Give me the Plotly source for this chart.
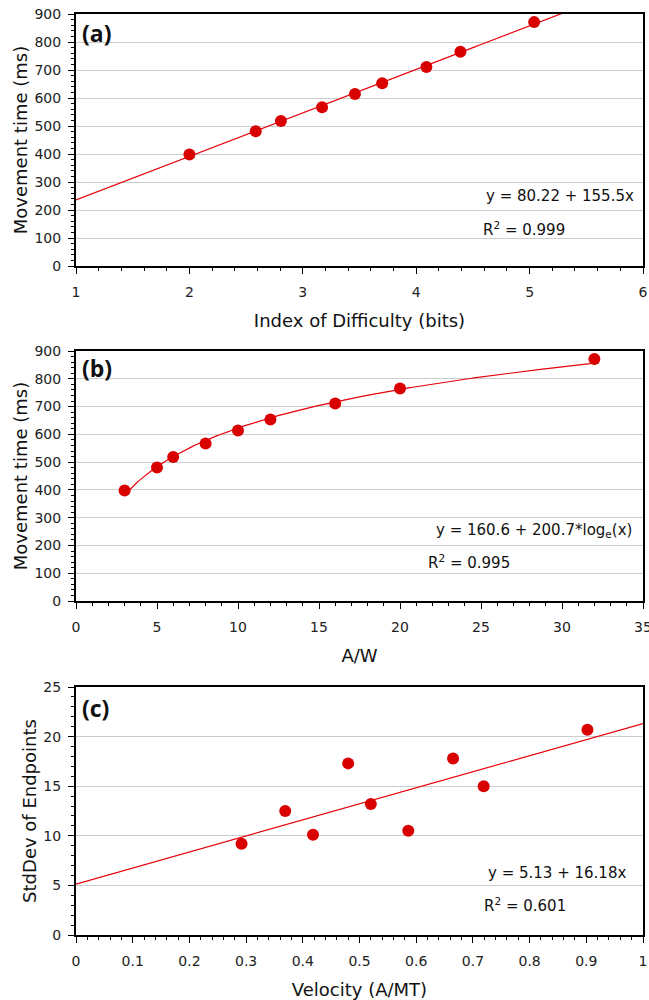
import numpy as np
import plotly.graph_objects as go

# ---------------- data ----------------
aw_ratio = [3, 5, 6, 8, 10, 12, 16, 20, 32]
index_of_difficulty = [2.00, 2.585, 2.807, 3.17, 3.46, 3.70, 4.09, 4.39, 5.04]
movement_time = [398, 481, 518, 567, 614, 653, 711, 765, 871]

velocity = [0.292, 0.369, 0.418, 0.480, 0.520, 0.586, 0.665, 0.719, 0.902]
stddev_endpoints = [9.2, 12.5, 10.1, 17.3, 13.2, 10.5, 17.8, 15.0, 20.7]

fit_a = (80.22, 155.5)     # y = a + b*x
fit_b = (160.6, 200.7)     # y = a + b*ln(x)
fit_c = (5.13, 16.18)      # y = a + b*x

eq_a = "y = 80.22 + 155.5x"
r2_a = "R<sup>2</sup> = 0.999"
eq_b = "y = 160.6 + 200.7*log<sub>e</sub>(x)"
r2_b = "R<sup>2</sup> = 0.995"
eq_c = "y = 5.13 + 16.18x"
r2_c = "R<sup>2</sup> = 0.601"

# ---------------- styling ----------------
W, H = 649, 1000
RED = "#d90000"
LINE_RED = "#e8000b"
FONT = "DejaVu Sans"
TICKC = "#222222"

def px_x(p):
    return p / W

def px_y(p):
    return 1 - p / H

fig = go.Figure()

# fit lines
xa = np.linspace(1, 6, 200)
fig.add_trace(go.Scatter(x=xa, y=fit_a[0] + fit_a[1] * xa, mode="lines",
                         line=dict(color=LINE_RED, width=1.2), xaxis="x", yaxis="y",
                         hoverinfo="skip"))
xb = np.linspace(min(aw_ratio), max(aw_ratio), 200)
fig.add_trace(go.Scatter(x=xb, y=fit_b[0] + fit_b[1] * np.log(xb), mode="lines",
                         line=dict(color=LINE_RED, width=1.2), xaxis="x2", yaxis="y2",
                         hoverinfo="skip"))
xc = np.linspace(0, 1, 50)
fig.add_trace(go.Scatter(x=xc, y=fit_c[0] + fit_c[1] * xc, mode="lines",
                         line=dict(color=LINE_RED, width=1.2), xaxis="x3", yaxis="y3",
                         hoverinfo="skip"))

# points
mk = dict(color=RED, size=12)
fig.add_trace(go.Scatter(x=index_of_difficulty, y=movement_time, mode="markers",
                         marker=mk, xaxis="x", yaxis="y"))
fig.add_trace(go.Scatter(x=aw_ratio, y=movement_time, mode="markers",
                         marker=mk, xaxis="x2", yaxis="y2"))
fig.add_trace(go.Scatter(x=velocity, y=stddev_endpoints, mode="markers",
                         marker=mk, xaxis="x3", yaxis="y3"))

xdom = [px_x(76), px_x(643)]
doms = {
    "a": [px_y(266), px_y(14)],
    "b": [px_y(601), px_y(351)],
    "c": [px_y(935), px_y(687)],
}

def xaxis(rng, dtick, minor, title, anchor):
    return dict(domain=xdom, range=rng, dtick=dtick, tick0=rng[0], anchor=anchor,
                showline=True, linecolor="black", linewidth=2, mirror=True,
                ticks="outside", ticklen=6, tickwidth=1, tickcolor="black",
                minor=dict(ticks="outside", ticklen=3, dtick=minor, tickcolor="black", showgrid=False),
                showgrid=False, zeroline=False,
                tickfont=dict(family=FONT, size=14, color=TICKC),
                ticklabelstandoff=6, ticklabeloverflow="allow",
                title=dict(text=title, font=dict(family=FONT, size=18, color="#111"), standoff=16),
                automargin=False, fixedrange=True)

def yaxis(rng, dtick, minor, title, dom, anchor):
    return dict(domain=dom, range=rng, dtick=dtick, tick0=0, anchor=anchor,
                showline=True, linecolor="black", linewidth=2, mirror=True,
                ticks="outside", ticklen=6, tickwidth=1, tickcolor="black",
                minor=dict(ticks="outside", ticklen=3, dtick=minor, tickcolor="black", showgrid=False),
                showgrid=True, gridcolor="#cccccc", gridwidth=1, zeroline=False,
                tickfont=dict(family=FONT, size=14, color=TICKC),
                ticklabelstandoff=4,
                title=dict(text=title, font=dict(family=FONT, size=18, color="#111"), standoff=2),
                automargin=False, fixedrange=True)

fig.update_layout(
    width=W, height=H,
    margin=dict(l=0, r=0, t=0, b=0),
    paper_bgcolor="white", plot_bgcolor="white",
    showlegend=False,
    xaxis=xaxis([1, 6], 1, 0.2, "Index of Difficulty (bits)", "y"),
    yaxis=yaxis([0, 900], 100, 20, "Movement time (ms)", doms["a"], "x"),
    xaxis2=xaxis([0, 35], 5, 1, "A/W", "y2"),
    yaxis2=yaxis([0, 900], 100, 20, "Movement time (ms)", doms["b"], "x2"),
    xaxis3=xaxis([0, 1], 0.1, 0.02, "Velocity (A/MT)", "y3"),
    yaxis3=yaxis([0, 25], 5, 1, "StdDev of Endpoints", doms["c"], "x3"),
)

ann_font = dict(family=FONT, size=15, color="#111")
lab_font = dict(family="Open Sans", size=23, color="#111")

def add_ann(text, x, y, xanchor, font):
    fig.add_annotation(text=text, xref="paper", yref="paper", x=x, y=y,
                       xanchor=xanchor, yanchor="middle", showarrow=False, font=font)

add_ann("<b>(a)</b>", px_x(80), px_y(33), "left", lab_font)
add_ann("<b>(b)</b>", px_x(80), px_y(368), "left", lab_font)
add_ann("<b>(c)</b>", px_x(80), px_y(708), "left", lab_font)

add_ann(eq_a, px_x(636), px_y(196), "right", ann_font)
add_ann(r2_a, px_x(481), px_y(229), "left", ann_font)
add_ann(eq_b, px_x(634), px_y(530), "right", ann_font)
add_ann(r2_b, px_x(426), px_y(562), "left", ann_font)
add_ann(eq_c, px_x(628), px_y(873), "right", ann_font)
add_ann(r2_c, px_x(482), px_y(905), "left", ann_font)

fig.write_html("out.html",
               config={"displayModeBar": False},
               post_script="document.body.style.margin='0';document.body.style.overflow='hidden';")
